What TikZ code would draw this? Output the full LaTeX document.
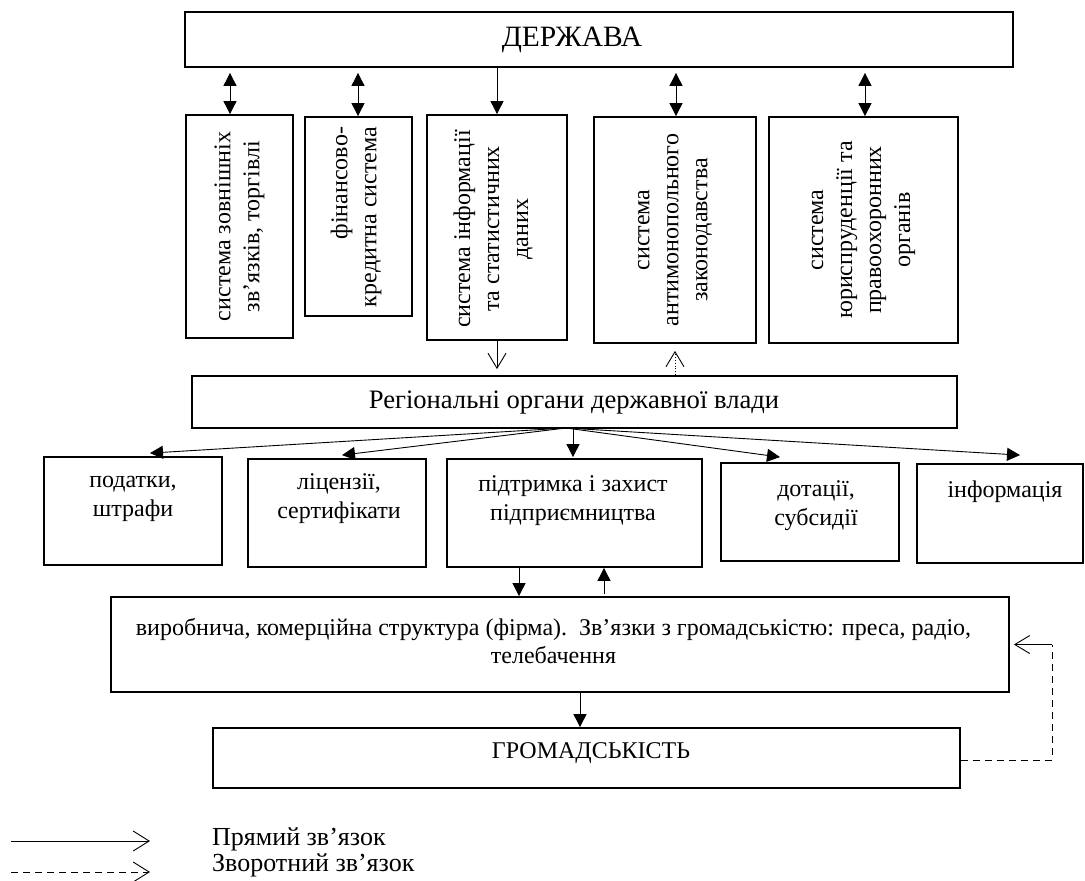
\documentclass[tikz,border=0pt]{standalone}
\usepackage{fontspec}
\setmainfont{Liberation Serif}
\usetikzlibrary{arrows.meta,calc}
\begin{document}
\begin{tikzpicture}[x=1pt,y=-1pt,
  every node/.style={font=\fontsize{24}{29}\selectfont, inner sep=0pt},
  box/.style={draw, line width=1.8pt, inner sep=0pt},
  txt/.style={align=center},
  rot/.style={align=center, rotate=90},
  con/.style={line width=0.9pt},
  fa/.style={con, -{Triangle[length=13pt,width=13pt]}},
  dfa/.style={con, {Triangle[length=13pt,width=13pt]}-{Triangle[length=13pt,width=13pt]}},
  oa/.style={con, -{Straight Barb[length=15pt,width=18pt,line width=0.9pt]}},
  la/.style={con, -{Straight Barb[length=16pt,width=20pt,line width=0.9pt]}}
]
\useasboundingbox (0,0) rectangle (1085,881);

% top
\node[box, minimum width=828pt, minimum height=55pt] (der) at (599,39.5) {};
\node[font=\fontsize{29.5}{34}\selectfont] (dert) at (572,40) {ДЕРЖАВА};

% vertical boxes
\node[box, minimum width=107pt, minimum height=223pt] (b1) at (239.5,226.5) {};
\node[rot] (b1t) at (b1) {система зовнішніх\\зв’язків, торгівлі};
\node[box, minimum width=107pt, minimum height=199pt] (b2) at (358.5,216.5) {};
\node[rot, align=right] (b2t) at (356,217) {фінансово-\\кредитна система};
\node[box, minimum width=140pt, minimum height=225pt] (b3) at (497,227.5) {};
\node[rot] (b3t) at (493,229) {система інформації\\та статистичних\\даних};
\node[box, minimum width=162pt, minimum height=226pt] (b4) at (675,230) {};
\node[rot] (b4t) at (b4) {система\\антимонопольного\\законодавства};
\node[box, minimum width=189pt, minimum height=226pt] (b5) at (863.5,230) {};
\node[rot] (b5t) at (b5) {система\\юриспруденції та\\правоохоронних\\органів};

\coordinate (a1) at (230,0);
\coordinate (a2) at (358,0);
\coordinate (a4) at (676,0);
\coordinate (a5) at (865,0);
\draw[dfa] ([yshift=-5pt]der.south -| a1) -- (b1.north -| a1);
\draw[dfa] ([yshift=-5pt]der.south -| a2) -- (b2.north -| a2);
\draw[fa] (der.south -| b3) -- (b3.north);
\draw[dfa] ([yshift=-5pt]der.south -| a4) -- (b4.north -| a4);
\draw[dfa] ([yshift=-5pt]der.south -| a5) -- (b5.north -| a5);

% regional
\node[box, minimum width=765pt, minimum height=52pt] (reg) at (574.5,402) {};
\node[font=\fontsize{26.6}{31}\selectfont] (regt) at (574,403) {Регіональні органи державної влади};
\draw[oa] (b3.south) -- ([yshift=6pt]reg.north -| b3);
\draw[con, dotted, -{Straight Barb[length=15pt,width=18pt,line width=0.9pt]}] (reg.north -| b4) -- ([yshift=-7pt]b4.south);

% bottom row
\node[box, minimum width=178pt, minimum height=108pt] (p1) at (133,511) {};
\node[txt] (p1t) at (133,499) {податки,\\штрафи};
\node[box, minimum width=178pt, minimum height=108pt] (p2) at (337,513) {};
\node[txt] (p2t) at (339,499) {ліцензії,\\сертифікати};
\node[box, minimum width=255pt, minimum height=108pt] (p3) at (574.5,513) {};
\node[txt] (p3t) at (573,501) {підтримка і захист\\підприємництва};
\node[box, minimum width=178pt, minimum height=98pt] (p4) at (810,512) {};
\node[txt] (p4t) at (816,506) {дотації,\\субсидії};
\node[box, minimum width=166pt, minimum height=99pt] (p5) at (1000,513.5) {};
\node[txt] (p5t) at (1005,492) {інформація};

\coordinate (fan) at (566,428);
\draw[fa] (fan) -- ([xshift=17pt,yshift=3pt]p1.north);
\draw[fa] (fan) -- ([xshift=5pt,yshift=3pt]p2.north);
\draw[fa] ([xshift=-1.5pt]reg.south) -- ([xshift=-1.5pt,yshift=1pt]p3.north);
\draw[fa] (fan) -- ([xshift=-30pt,yshift=5pt]p4.north);
\draw[fa] (fan) -- ([xshift=20pt,yshift=8pt]p5.north);

% firm
\node[box, minimum width=898pt, minimum height=95pt] (firm) at (560,644.5) {};
\node[txt, font=\fontsize{24}{28}\selectfont] (firmt) at (553.5,641) {виробнича, комерційна структура (фірма).\ \ Зв’язки з громадськістю: преса, радіо,\\телебачення};
\coordinate (d1) at (519,0);
\coordinate (u1) at (604,0);
\draw[fa] (p3.south -| d1) -- (firm.north -| d1);
\draw[fa] ([yshift=2pt]firm.north -| u1) -- (p3.south -| u1);

% public
\node[box, minimum width=747pt, minimum height=60pt] (grom) at (586.5,758) {};
\node (gromt) at (591,753) {ГРОМАДСЬКІСТЬ};
\coordinate (g1) at (580,0);
\draw[fa] (firm.south -| g1) -- (grom.north -| g1);

\coordinate (fbc) at (1052,644.5);
\coordinate (fby) at (0,760);
\draw[con, dash pattern=on 7pt off 5pt] (grom.east |- fby) -| (fbc);
\draw[oa] (fbc) -- ([xshift=4pt]firm.east);

% legend
\coordinate (l1s) at (11,841);
\coordinate (l1e) at (150,841);
\coordinate (l2s) at (11,872);
\coordinate (l2e) at (150,872);
\draw[la] (l1s) -- (l1e);
\draw[la, dash pattern=on 7pt off 5pt] (l2s) -- (l2e);
\node[anchor=west, font=\fontsize{26}{30}\selectfont] (lt1) at (212,839) {Прямий зв’язок};
\node[anchor=west, font=\fontsize{26}{30}\selectfont] (lt2) at (212,865) {Зворотний зв’язок};
\end{tikzpicture}
\end{document}
